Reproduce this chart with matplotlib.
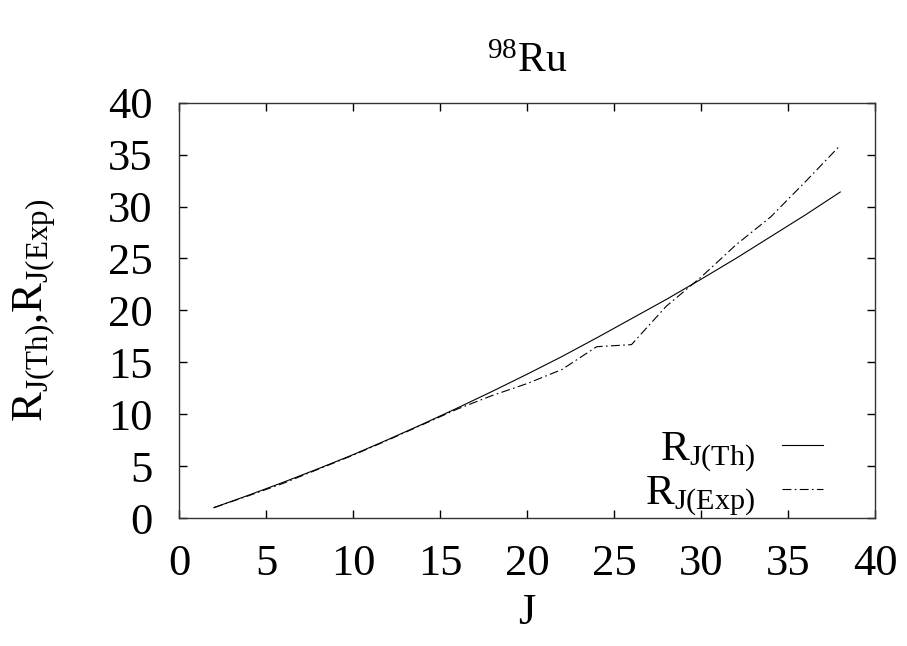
import matplotlib
matplotlib.use("Agg")
import matplotlib.pyplot as plt

# 98Ru ground band: theoretical vs experimental R_J
J = [2, 4, 6, 8, 10, 12, 14, 16, 18, 20, 22, 24, 26, 28, 30, 32, 34, 36, 38]
R_th = [1.0, 2.2, 3.45, 4.75, 6.1, 7.55, 9.05, 10.6, 12.2, 13.85, 15.55,
        17.35, 19.2, 21.05, 23.0, 25.0, 27.1, 29.2, 31.4]
R_exp = [1.0, 2.15, 3.35, 4.7, 6.05, 7.5, 9.0, 10.5, 11.8, 12.95, 14.3,
         16.5, 16.7, 20.4, 23.2, 26.3, 29.0, 32.4, 35.9]

x_ticks = [0, 5, 10, 15, 20, 25, 30, 35, 40]
y_ticks = [0, 5, 10, 15, 20, 25, 30, 35, 40]

plt.rcParams['font.family'] = ['Liberation Serif', 'DejaVu Serif']
plt.rcParams['mathtext.fontset'] = 'custom'
plt.rcParams['mathtext.rm'] = 'Liberation Serif'
plt.rcParams['mathtext.it'] = 'Liberation Serif:italic'
plt.rcParams['mathtext.bf'] = 'Liberation Serif:bold'

fig = plt.figure(figsize=(9.07, 6.46), dpi=100)
ax = fig.add_axes([0.1974, 0.1981, 0.7674, 0.6429])

ax.plot(J, R_th, color='black', lw=0.8, label=r'R$_{\mathrm{J(Th)}}$')
ax.plot(J, R_exp, color='black', lw=0.8, linestyle=(0, (8, 3, 1.5, 3)),
        label=r'R$_{\mathrm{J(Exp)}}$')

ax.set_xlim(0, 40)
ax.set_ylim(0, 40)
ax.set_xticks(x_ticks)
ax.set_yticks(y_ticks)
ax.tick_params(direction='in', top=True, right=True, length=6, width=1,
               labelsize=32, pad=19)
for s in ax.spines.values():
    s.set_linewidth(1.0)
    s.set_color('#333333')

ax.set_xlabel('J', fontsize=32, va='top')
ax.xaxis.set_label_coords(0.5, -0.18)
ax.set_ylabel(r'R$_{\mathrm{J(Th)}}$,R$_{\mathrm{J(Exp)}}$', fontsize=32)
ax.yaxis.set_label_coords(-0.176, 0.5)
ax.set_title(r'$^{98}$Ru', fontsize=30, pad=22)

ax.legend(loc='lower right', bbox_to_anchor=(0.925, 0.0), frameon=False,
          markerfirst=False, fontsize=31, handlelength=0.95,
          handletextpad=0.62, labelspacing=0.0, borderpad=0, borderaxespad=0)

fig.savefig('out.png', dpi=100)
